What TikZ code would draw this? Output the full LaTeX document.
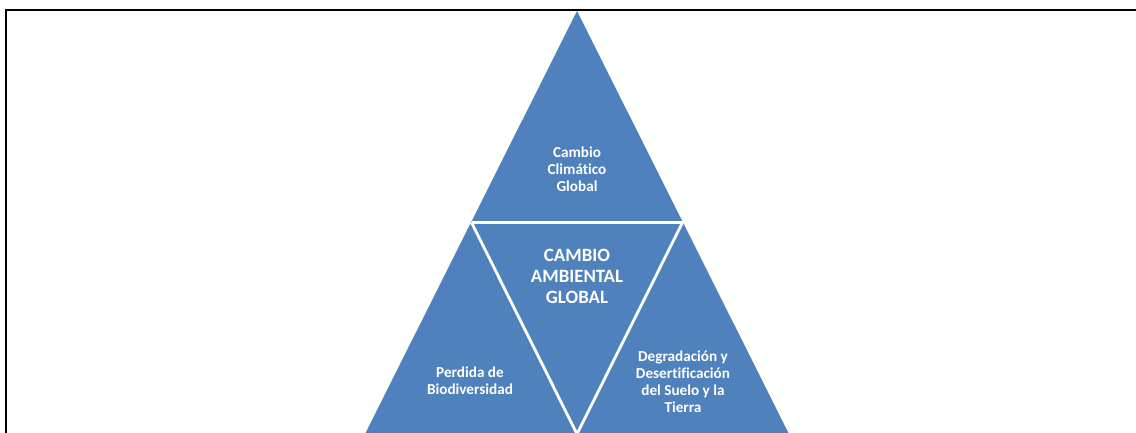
\documentclass[tikz,border=0pt]{standalone}
\usepackage{fontspec}
\setmainfont{Carlito}[Ligatures=NoCommon]
\definecolor{tblue}{HTML}{4F81BD}
\tikzset{
  tri/.style={fill=tblue},
  sep/.style={draw=white, line width=2.8pt, line cap=butt},
  smalltxt/.style={text=white, font=\fontsize{15.2}{17}\selectfont\bfseries, align=center},
  bigtxt/.style={text=white, font=\fontsize{18.8}{21}\selectfont\bfseries, align=center},
  frame/.style={draw=black, line width=2.2pt}
}
\begin{document}
\begin{tikzpicture}[x=1pt,y=-1pt]
\useasboundingbox (0,0) rectangle (1136,433);
\clip (0,0) rectangle (1136,433);
\coordinate (A) at (577,11);
\coordinate (L) at (471.5,222.5);
\coordinate (R) at (682.5,222.5);
\coordinate (BL) at (365,434);
\coordinate (BM) at (577,434);
\coordinate (BR) at (789,434);
\path[tri] (A) -- (BL) -- (BR) -- cycle;
\draw[sep] (L) -- (R);
\draw[sep] (L) -- (BM) -- (R);
\draw[frame] (6,440) -- (6,10) -- (1140,10);
\node[smalltxt] (top) at (577,169) {Cambio\\Climático\\Global};
\node[bigtxt] (mid) at (577,276) {CAMBIO\\AMBIENTAL\\GLOBAL};
\node[smalltxt] (left) at (470,381) {Perdida de\\Biodiversidad};
\node[smalltxt] (right) at (683,382) {Degradación y\\Desertificación\\del Suelo y la\\Tierra};
\end{tikzpicture}
\end{document}
